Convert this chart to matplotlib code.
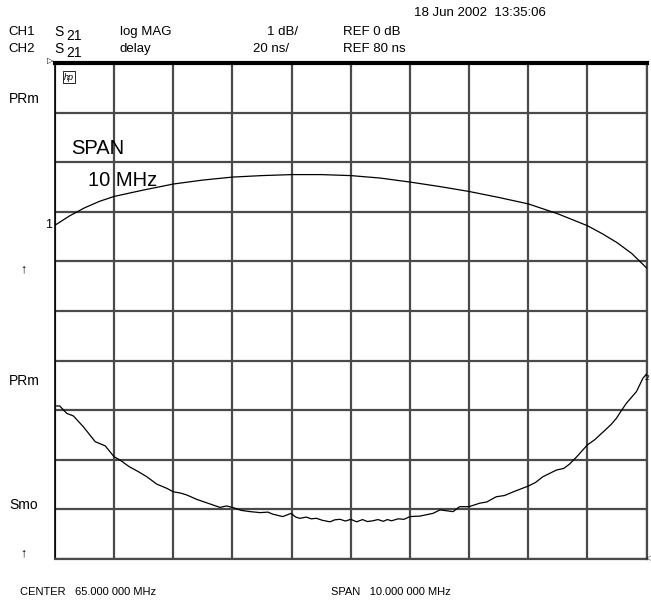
import matplotlib
matplotlib.use("Agg")
import matplotlib.pyplot as plt

plt.rcParams['font.family'] = ['Liberation Sans', 'DejaVu Sans']

# CH1: S21 log MAG (dB)
mag_freq = [60.0, 60.25, 60.5, 60.75, 61.0, 61.5, 62.0, 62.5, 63.0, 63.5, 64.0, 64.5,
            65.0, 65.5, 66.0, 66.5, 67.0, 67.5, 68.0, 68.5, 69.0, 69.25, 69.5, 69.75, 70.0]
mag_db = [-3.27, -3.08, -2.92, -2.79, -2.69, -2.56, -2.44, -2.36, -2.30, -2.27, -2.25, -2.25,
          -2.27, -2.32, -2.40, -2.49, -2.59, -2.71, -2.84, -3.04, -3.28, -3.44, -3.62, -3.84, -4.13]

# CH2: S21 delay (ns)
dly_freq = [60.00, 60.08, 60.20, 60.31, 60.48, 60.68, 60.85, 61.00, 61.10, 61.25, 61.41, 61.55,
            61.72, 61.89, 62.00, 62.12, 62.23, 62.40, 62.56, 62.79, 62.90, 63.00, 63.15, 63.30,
            63.47, 63.60, 63.68, 63.85, 63.99, 64.07, 64.14, 64.25, 64.33, 64.42, 64.52, 64.65,
            64.73, 64.82, 64.91, 65.00, 65.10, 65.20, 65.28, 65.37, 65.46, 65.55, 65.62, 65.69,
            65.80, 65.90, 66.00, 66.17, 66.39, 66.51, 66.73, 66.84, 67.00, 67.18, 67.30, 67.46,
            67.60, 67.75, 68.00, 68.12, 68.25, 68.48, 68.60, 68.70, 68.82, 69.00, 69.12, 69.27,
            69.40, 69.49, 69.58, 69.66, 69.83, 69.94, 70.00]
dly_ns = [141.7, 141.7, 138.7, 137.7, 133.3, 127.3, 125.6, 121.2, 119.9, 117.3, 115.2, 113.2,
          110.2, 108.5, 107.1, 106.6, 105.8, 104.0, 102.7, 100.8, 101.4, 100.8, 99.6, 99.1,
          98.7, 98.9, 98.1, 97.1, 98.4, 96.9, 96.4, 96.9, 96.2, 96.4, 95.6, 95.0,
          95.8, 96.0, 95.3, 96.0, 95.0, 95.9, 95.1, 95.4, 95.9, 95.2, 95.9, 95.4,
          96.2, 96.0, 97.1, 97.3, 98.4, 99.8, 99.1, 101.1, 101.1, 102.5, 103.0, 105.1,
          105.6, 107.1, 109.4, 110.8, 113.2, 115.9, 116.5, 118.3, 121.2, 126.0, 128.0, 131.3,
          134.2, 136.7, 140.0, 142.8, 147.5, 152.9, 154.6]

W, H = 651, 601
fig = plt.figure(figsize=(W / 100, H / 100), dpi=100)

def fx(x):
    return x / W

def fy(y):
    return 1 - y / H

left, right, top, bottom = 55, 646.5, 63, 559
ax = fig.add_axes([fx(left), fy(bottom), (right - left) / W, (bottom - top) / H])
ax.set_xlim(60, 70)
ax.set_ylim(-10, 0)          # 1 dB/div, REF 0 dB at top
ax.set_xticks([60 + i for i in range(11)])
ax.set_yticks([-10 + i for i in range(11)])
ax.grid(True, color='#4a4a4a', lw=1.6)
for s in ['bottom', 'right']:
    ax.spines[s].set_color('#4a4a4a')
    ax.spines[s].set_linewidth(1.6)
ax.spines['left'].set_color('black')
ax.spines['left'].set_linewidth(1.2)
ax.spines['top'].set_color('black')
ax.spines['top'].set_linewidth(3)
ax.plot(mag_freq, mag_db, color='black', lw=0.9, zorder=5)

ax2 = ax.twinx()
ax2.set_ylim(80, 280)        # 20 ns/div, REF 80 ns
ax2.set_axis_off()
ax2.plot(dly_freq, dly_ns, color='black', lw=0.9, zorder=5)
ax.tick_params(left=False, right=False, bottom=False, top=False,
               labelleft=False, labelbottom=False)

fs = 9.5
# header
fig.text(fx(414), fy(13), '18 Jun 2002  13:35:06', fontsize=fs, va='center')
for row, (ch, fmt, scale, ref) in enumerate([('CH1', 'log MAG', '1 dB/', 'REF 0 dB'),
                                             ('CH2', 'delay', '20 ns/', 'REF 80 ns')]):
    y = 32 + 17 * row
    fig.text(fx(8), fy(y), ch, fontsize=fs, va='center')
    fig.text(fx(54), fy(y), 'S', fontsize=fs + 0.5, va='center')
    fig.text(fx(66), fy(y + 4), '21', fontsize=fs + 0.5, va='center')
    fig.text(fx(120), fy(y), fmt, fontsize=fs, va='center')
    fig.text(fx(298 if row == 0 else 289), fy(y), scale, fontsize=fs, va='center', ha='right')
    fig.text(fx(343), fy(y), ref, fontsize=fs, va='center')

# left annotations
fig.text(fx(9), fy(99), 'PRm', fontsize=10, va='center')
fig.text(fx(9), fy(381), 'PRm', fontsize=10, va='center')
fig.text(fx(9), fy(505), 'Smo', fontsize=10, va='center')
fig.text(fx(23), fy(269), '↑', fontsize=9, va='center', ha='center')
fig.text(fx(23), fy(553), '↑', fontsize=9, va='center', ha='center')
fig.text(fx(52), fy(225), '1', fontsize=9, va='center', ha='right')
fig.text(fx(50), fy(62), '▷', fontsize=6, va='center', ha='center')
fig.text(fx(645), fy(378), '2', fontsize=6, va='center', ha='left')
fig.text(fx(646), fy(559), '◁', fontsize=5, va='center', ha='left')
fig.text(fx(64), fy(77), 'hp', fontsize=6.5, style='italic', va='center',
         bbox=dict(boxstyle='square,pad=0.15', fc='white', ec='black', lw=0.6))

# span label in plot
fig.text(fx(71), fy(148), 'SPAN', fontsize=14.5, va='center')
fig.text(fx(88), fy(180), '10 MHz', fontsize=14.5, va='center')

# footer
fig.text(fx(20), fy(592), 'CENTER   65.000 000 MHz', fontsize=8, va='center')
fig.text(fx(331), fy(592), 'SPAN   10.000 000 MHz', fontsize=8, va='center')

fig.savefig('out.png', dpi=100, facecolor='white')
